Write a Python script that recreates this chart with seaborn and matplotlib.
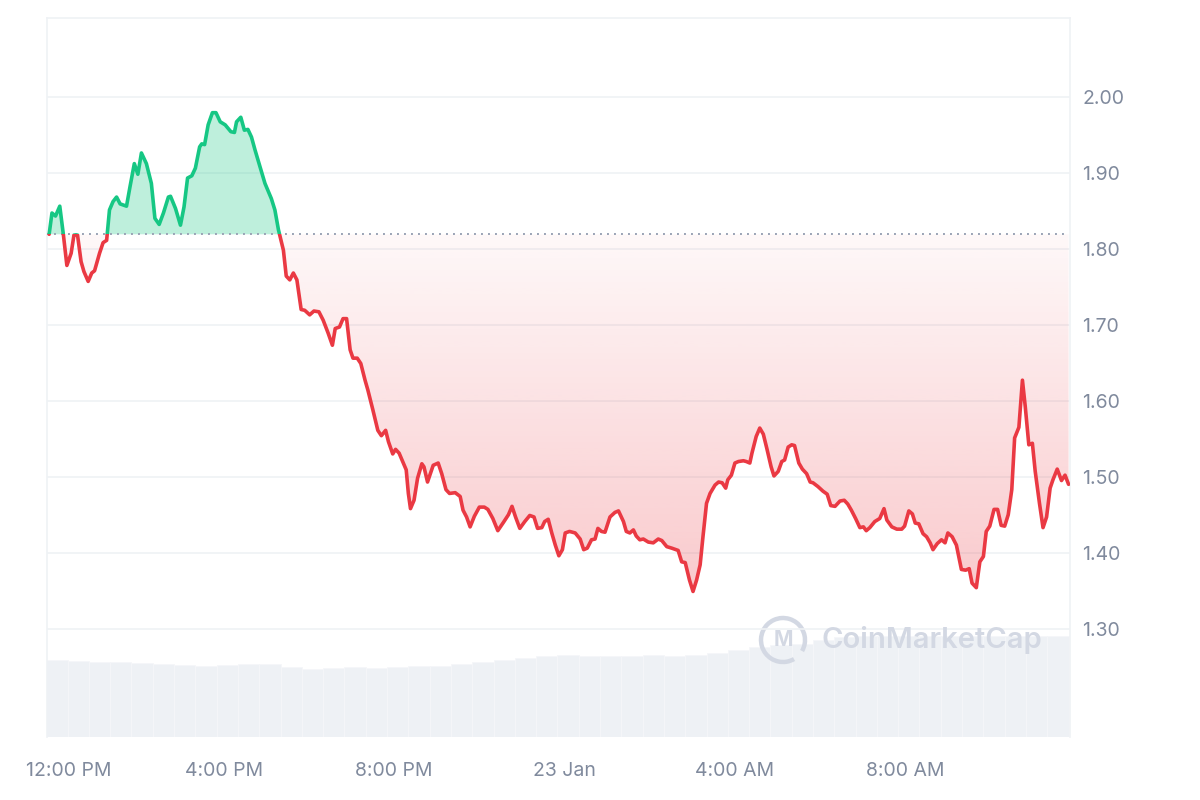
import matplotlib
matplotlib.use("Agg")
import matplotlib.pyplot as plt
import matplotlib.dates as mdates
import matplotlib.transforms as mtransforms
from matplotlib.colors import LinearSegmentedColormap, to_rgba
from matplotlib.patches import Rectangle, Arc
from matplotlib.path import Path
import numpy as np
import pandas as pd
import seaborn as sns

START = pd.Timestamp("2025-01-22 12:00")

# price samples: minutes after 12:00 PM and price in USD
price_minutes = [
    -6, -2, 3, 9, 14, 19, 25, 29, 34, 39, 43, 49, 54, 58, 65, 70, 75, 79, 84, 89,
    94, 103, 108, 114, 119, 124, 131, 138, 143, 149, 155, 162, 165, 172, 179, 184, 189, 195, 200, 206,
    209, 213, 218, 224, 229, 235, 242, 250, 255, 258, 264, 269, 274, 279, 284, 291, 298, 307, 312, 317,
    324, 328, 333, 338, 343, 349, 354, 361, 367, 374, 380, 387, 393, 397, 403, 408, 413, 418, 422, 428,
    433, 439, 443, 450, 457, 462, 468, 472, 478, 482, 487, 493, 497, 500, 503, 508, 513, 519, 522, 527,
    535, 542, 547, 553, 558, 566, 573, 577, 582, 587, 593, 600, 607, 612, 619, 626, 634, 641, 646, 651,
    657, 664, 671, 677, 682, 688, 692, 697, 702, 707, 712, 717, 721, 727, 735, 742, 747, 752, 758, 763,
    767, 772, 777, 784, 791, 796, 803, 807, 812, 817, 821, 826, 831, 838, 845, 852, 857, 864, 871, 880,
    885, 890, 896, 901, 906, 911, 915, 920, 925, 932, 937, 942, 947, 950, 955, 960, 965, 972, 976, 981,
    984, 990, 995, 1000, 1005, 1011, 1015, 1021, 1026, 1030, 1035, 1040, 1044, 1050, 1055, 1061, 1066, 1070, 1077, 1084,
    1090, 1095, 1101, 1108, 1114, 1119, 1124, 1130, 1136, 1141, 1145, 1150, 1157, 1164, 1170, 1174, 1181, 1188, 1195, 1199,
    1205, 1210, 1214, 1219, 1225, 1230, 1235, 1239, 1245, 1251, 1256, 1260, 1266, 1272, 1279, 1285, 1290, 1294, 1300, 1305,
    1310, 1314, 1319, 1325, 1330, 1335, 1340, 1345, 1350, 1354, 1360, 1365, 1369, 1374, 1379, 1383, 1389, 1394, 1399, 1404,
    1408, 1414, 1420, 1425, 1430,
]
price_values = [
    1.819, 1.847, 1.843, 1.856, 1.819, 1.778, 1.794, 1.818, 1.818, 1.783, 1.770, 1.757, 1.768, 1.771, 1.794, 1.808, 1.811, 1.851, 1.862, 1.868,
    1.859, 1.856, 1.882, 1.912, 1.898, 1.926, 1.912, 1.886, 1.840, 1.832, 1.847, 1.868, 1.869, 1.853, 1.831, 1.855, 1.893, 1.896, 1.906, 1.934,
    1.938, 1.937, 1.963, 1.979, 1.979, 1.967, 1.963, 1.954, 1.953, 1.967, 1.973, 1.956, 1.957, 1.947, 1.930, 1.908, 1.886, 1.866, 1.851, 1.825,
    1.798, 1.764, 1.759, 1.768, 1.759, 1.720, 1.719, 1.713, 1.718, 1.717, 1.706, 1.689, 1.673, 1.695, 1.697, 1.708, 1.708, 1.667, 1.656, 1.656,
    1.649, 1.627, 1.614, 1.588, 1.561, 1.554, 1.561, 1.546, 1.530, 1.536, 1.531, 1.518, 1.509, 1.478, 1.458, 1.469, 1.498, 1.517, 1.513, 1.493,
    1.515, 1.518, 1.504, 1.483, 1.478, 1.479, 1.474, 1.456, 1.447, 1.434, 1.448, 1.460, 1.460, 1.457, 1.445, 1.429, 1.440, 1.450, 1.461, 1.447,
    1.432, 1.441, 1.449, 1.447, 1.432, 1.433, 1.441, 1.444, 1.426, 1.410, 1.396, 1.404, 1.426, 1.428, 1.426, 1.418, 1.404, 1.406, 1.417, 1.418,
    1.432, 1.428, 1.427, 1.447, 1.453, 1.455, 1.441, 1.428, 1.426, 1.430, 1.422, 1.417, 1.418, 1.414, 1.413, 1.418, 1.416, 1.408, 1.406, 1.403,
    1.388, 1.387, 1.364, 1.349, 1.364, 1.384, 1.421, 1.465, 1.478, 1.489, 1.493, 1.492, 1.485, 1.496, 1.502, 1.518, 1.520, 1.521, 1.520, 1.518,
    1.531, 1.553, 1.564, 1.556, 1.537, 1.513, 1.501, 1.507, 1.520, 1.522, 1.539, 1.542, 1.541, 1.518, 1.510, 1.504, 1.493, 1.492, 1.487, 1.481,
    1.477, 1.462, 1.461, 1.468, 1.469, 1.464, 1.456, 1.445, 1.433, 1.434, 1.429, 1.433, 1.441, 1.445, 1.458, 1.443, 1.434, 1.431, 1.431, 1.435,
    1.455, 1.451, 1.439, 1.438, 1.425, 1.421, 1.413, 1.404, 1.412, 1.417, 1.413, 1.426, 1.421, 1.410, 1.378, 1.377, 1.379, 1.360, 1.354, 1.388,
    1.395, 1.428, 1.435, 1.457, 1.457, 1.436, 1.435, 1.450, 1.483, 1.551, 1.565, 1.627, 1.592, 1.542, 1.544, 1.507, 1.465, 1.433, 1.447, 1.485,
    1.496, 1.510, 1.495, 1.502, 1.490,
]

# 30-minute volume bars starting 11:50 AM (millions USD)
volume_values = [
    7.7, 7.6, 7.5, 7.5, 7.4, 7.3, 7.2, 7.1, 7.2, 7.3, 7.3, 7.0, 6.8, 6.9, 7.0, 6.9,
    7.0, 7.1, 7.1, 7.3, 7.5, 7.7, 7.9, 8.1, 8.2, 8.1, 8.1, 8.1, 8.2, 8.1, 8.2, 8.4,
    8.7, 9.0, 9.2, 9.3, 9.7, 10.0, 10.1, 10.1, 10.1, 10.1, 10.1, 10.1, 10.1, 10.1, 10.1, 10.1,
]

open_price = 1.819
y_ticks = [1.30, 1.40, 1.50, 1.60, 1.70, 1.80, 1.90, 2.00]
x_tick_hours = [0, 4, 8, 12, 16, 20]
x_tick_labels = ["12:00 PM", "4:00 PM", "8:00 PM", "23 Jan", "4:00 AM", "8:00 AM"]

GREEN = "#16c784"
RED = "#ea3943"
TEXT = "#808a9d"
GRID = "#eff2f5"

sns.set_theme(style="white")
plt.rcParams["font.family"] = ["Inter", "DejaVu Sans"]

times = START + pd.to_timedelta(price_minutes, unit="m")
df = pd.DataFrame({"time": times, "price": price_values})
xnum = mdates.date2num(times)
price = np.array(price_values)

x0 = mdates.date2num(START - pd.Timedelta(minutes=9))
x1 = mdates.date2num(START + pd.Timedelta(minutes=1432))
ylo, yhi = 1.1575, 2.1036

fig = plt.figure(figsize=(12, 8), dpi=100)
rect = [47 / 1200, 63 / 800, 1023 / 1200, 719 / 800]

# volume in the background
ax_vol = fig.add_axes(rect, zorder=0)
vol_start = START + pd.to_timedelta(np.arange(len(volume_values)) * 30 - 10, unit="m")
ax_vol.bar(mdates.date2num(vol_start), volume_values, width=30 / 1440, align="edge",
           color="#eef1f5", edgecolor="#f5f6f9", linewidth=0.6)
ax_vol.set_xlim(x0, x1)
ax_vol.set_ylim(0, 71.9)
ax_vol.axis("off")

ax = fig.add_axes(rect, zorder=1)
ax.patch.set_alpha(0)

# green area above the open price
ax.fill_between(xnum, open_price, price, where=price >= open_price, interpolate=True,
                color=GREEN, alpha=0.28, linewidth=0, zorder=2)

# red area below, with a vertical fade
red_poly = ax.fill_between(xnum, open_price, price, where=price <= open_price, interpolate=True,
                           facecolor="none", linewidth=0)
clip = Path.make_compound_path(*red_poly.get_paths())
cmap = LinearSegmentedColormap.from_list("fade", [to_rgba(RED, 0.27), to_rgba(RED, 0.035)])
grad = np.linspace(0, 1, 256).reshape(-1, 1)
im = ax.imshow(grad, cmap=cmap, aspect="auto", origin="lower",
               extent=[x0, x1, price.min(), open_price], zorder=2, interpolation="bilinear")
im.set_clip_path(clip, ax.transData)

# price line, coloured by side of the open price
sns.lineplot(data=df, x="time", y="price", color=GREEN, linewidth=2.6, ax=ax, zorder=4)
up_line = ax.lines[-1]
sns.lineplot(data=df, x="time", y="price", color=RED, linewidth=2.6, ax=ax, zorder=4)
dn_line = ax.lines[-1]
up_line.set_clip_path(Rectangle((x0, open_price), x1 - x0, 5, transform=ax.transData))
dn_line.set_clip_path(Rectangle((x0, open_price - 5), x1 - x0, 5, transform=ax.transData))

ax.axhline(open_price, xmax=0.995, color="#9aa3b5", linewidth=1.4, linestyle=(0, (1, 2.6)), zorder=3)

ax.set_xlim(x0, x1)
ax.set_ylim(ylo, yhi)
ax.set_xlabel("")
ax.set_ylabel("")

ax.set_yticks(y_ticks)
ax.set_yticklabels([f"{v:.2f}" for v in y_ticks])
ax.yaxis.tick_right()
ax.tick_params(axis="y", length=0, pad=9, labelsize=14, labelcolor=TEXT)
ax.grid(axis="y", color=GRID, linewidth=1.2)
ax.grid(axis="x", visible=False)
ax.set_axisbelow(True)

ax.set_xticks(mdates.date2num([START + pd.Timedelta(hours=h) for h in x_tick_hours]))
ax.set_xticklabels(x_tick_labels)
ax.tick_params(axis="x", length=0, pad=18, labelsize=14, labelcolor=TEXT)
first = ax.get_xticklabels()[0]
first.set_transform(first.get_transform() + mtransforms.ScaledTranslation(0.15, 0, fig.dpi_scale_trans))

for side in ["top", "left", "right"]:
    ax.spines[side].set_color(GRID)
    ax.spines[side].set_linewidth(1.2)
ax.spines["bottom"].set_visible(False)

# watermark
ax.text(0.757, 0.135, "CoinMarketCap", transform=ax.transAxes, fontsize=21,
        fontweight="semibold", color="#d3d8e3", va="center", ha="left", zorder=1)
fig.add_artist(Arc((7.83, 1.60), 0.44, 0.44, theta1=-30, theta2=300, lw=3.2,
                   color="#d3d8e3", transform=fig.dpi_scale_trans))
fig.text(783 / 1200, 160 / 800, "M", fontsize=15, fontweight="bold", color="#d3d8e3",
         ha="center", va="center")

fig.savefig("out.png", dpi=100)
